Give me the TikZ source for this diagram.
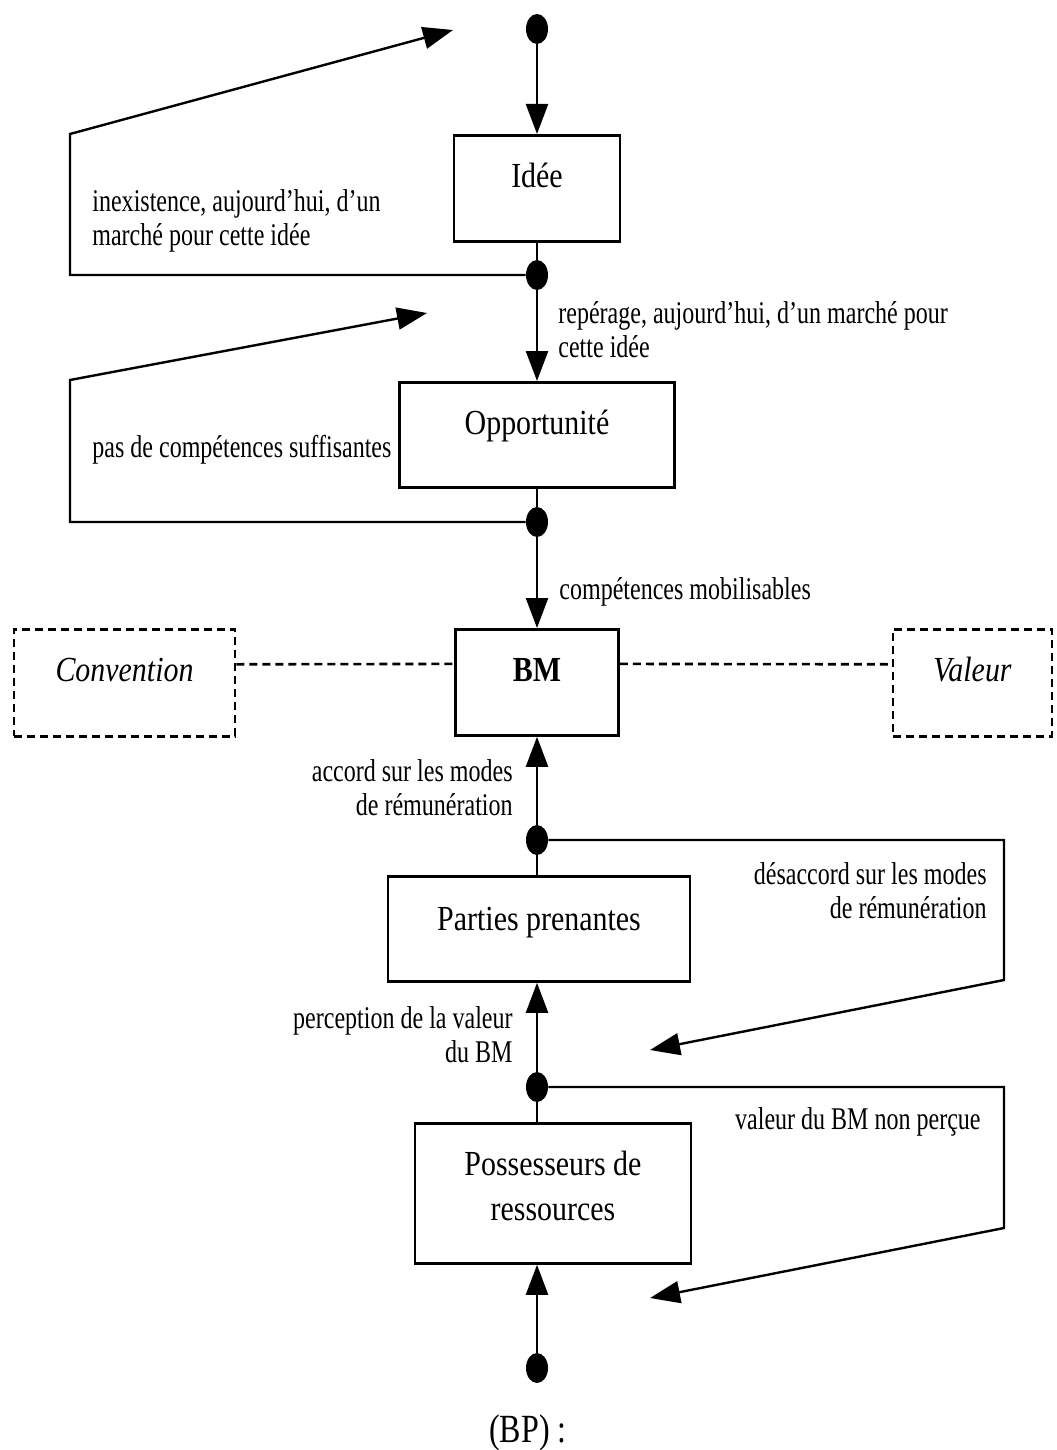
\documentclass[tikz,border=0pt]{standalone}
\usepackage{fontspec}
\setmainfont{Liberation Serif}
\newfontfamily\notefont{Liberation Serif}[FakeStretch=0.76]
\newfontfamily\stagefont{Liberation Serif}[FakeStretch=0.85]
\newfontfamily\captionfont{Liberation Serif}[FakeStretch=0.8]
\usepackage{tikz}
\usetikzlibrary{shapes.geometric,arrows.meta}

\begin{document}
\begin{tikzpicture}[x=0.5pt, y=-0.5pt]
    % Define block styles
    \tikzstyle{stage} = [rectangle, draw, line width=1.4pt, inner sep=0pt, text height=26pt, anchor=north, font=\stagefont\fontsize{17.6pt}{22.5pt}\selectfont]
    \tikzstyle{aside} = [rectangle, draw, dash pattern=on 4pt off 2.5pt, line width=1.3pt, inner sep=0pt, text height=26pt, text depth=27.5pt, anchor=north, font=\stagefont\fontsize{17.6pt}{22.5pt}\selectfont\itshape]
    \tikzstyle{junction} = [ellipse, fill=black, inner sep=0pt, minimum width=11pt, minimum height=15pt]
    \tikzstyle{note} = [inner sep=0pt, font=\notefont\fontsize{15.8pt}{17pt}\selectfont]
    \tikzstyle{line} = [draw, line width=1.2pt, -{Triangle[length=15pt, width=11pt]}]
    \tikzstyle{wire} = [draw, line width=1.2pt]
    \tikzstyle{link} = [draw, dash pattern=on 4pt off 2.5pt, line width=1.3pt]

    \fill [white] (0,0) rectangle (1056,1450);
    \useasboundingbox (0,0) rectangle (1056,1450);

    % Nodes
    \node [junction] (Start) at (537,29) {};
    \node [stage, minimum width=83pt, text depth=27pt] (Idee) at (537,134) {Idée};
    \node [junction] (IdeeOut) at (537,275) {};
    \node [stage, minimum width=137.5pt, text depth=26.5pt] (Opportunite) at (537,381) {Opportunité};
    \node [junction] (OppOut) at (537,522) {};
    \node [stage, minimum width=81.5pt, text depth=27pt, font=\stagefont\fontsize{17.6pt}{22.5pt}\selectfont\bfseries] (BM) at (537,628) {BM};
    \node [aside, minimum width=110.5pt] (Convention) at (124.5,628) {Convention};
    \node [aside, minimum width=79.5pt] (Valeur) at (972.5,628) {Valeur};
    \node [junction] (BMIn) at (537,840) {};
    \node [stage, minimum width=151pt, text height=27pt, text depth=25.5pt] (Parties) at (539,875) {Parties prenantes};
    \node [junction] (PartiesIn) at (537,1087) {};
    \node [stage, minimum width=138pt, text depth=44pt] (Possesseurs) at (553,1122) {\begin{tabular}[t]{@{}c@{}}Possesseurs de\\ressources\end{tabular}};
    \node [junction] (End) at (537,1368) {};

    % Labels
    \node [note, anchor=west, align=left] (NoMarket) at (92,221) {inexistence, aujourd’hui, d’un\\marché pour cette idée};
    \node [note, anchor=west, align=left] (Market) at (558,330) {repérage, aujourd’hui, d’un marché pour\\cette idée};
    \node [note, anchor=west] (NoSkills) at (92,450) {pas de compétences suffisantes};
    \node [note, anchor=west] (Skills) at (559,592) {compétences mobilisables};
    \node [note, anchor=east, align=right] (Agreement) at (513,788) {accord sur les modes\\de rémunération};
    \node [note, anchor=east, align=right] (Disagreement) at (987,891) {désaccord sur les modes\\de rémunération};
    \node [note, anchor=east, align=right] (Perceived) at (513,1035) {perception de la valeur\\du BM};
    \node [note, anchor=east] (NotPerceived) at (981,1122) {valeur du BM non perçue};
    \node [font=\captionfont\fontsize{20pt}{24pt}\selectfont] (Caption) at (528,1433) {(BP) :};

    % Loop corners and free ends
    \coordinate (IdeeCorner) at (70,134);
    \coordinate (IdeeBack) at (453,30);
    \coordinate (OppCorner) at (70,380);
    \coordinate (OppBack) at (427,313);
    \coordinate (BMCorner) at (1004,980);
    \coordinate (BMBack) at (650,1050);
    \coordinate (PartiesCorner) at (1004,1228);
    \coordinate (PartiesBack) at (650,1298);

    % Arrows
    \path [line] (Start) -- (Idee.north);
    \path [wire] (Idee.south) -- (IdeeOut);
    \path [line] (IdeeOut) -- (Opportunite.north);
    \path [wire] (Opportunite.south) -- (OppOut);
    \path [line] (OppOut) -- (BM.north);
    \path [line] (BMIn) -- (BM.south);
    \path [wire] (BMIn) -- (BMIn |- Parties.north);
    \path [line] (PartiesIn) -- (PartiesIn |- Parties.south);
    \path [wire] (PartiesIn) -- (PartiesIn |- Possesseurs.north);
    \path [line] (End) -- (End |- Possesseurs.south);

    \path [line] (IdeeOut) -| (IdeeCorner) -- (IdeeBack);
    \path [line] (OppOut) -| (OppCorner) -- (OppBack);
    \path [line] (BMIn) -| (BMCorner) -- (BMBack);
    \path [line] (PartiesIn) -| (PartiesCorner) -- (PartiesBack);

    \path [link] ([yshift=9.25pt]Convention.east) -- ([yshift=9.25pt]BM.west);
    \path [link] ([yshift=9.25pt]BM.east) -- ([yshift=9.25pt]Valeur.west);

  \end{tikzpicture}
\end{document}
